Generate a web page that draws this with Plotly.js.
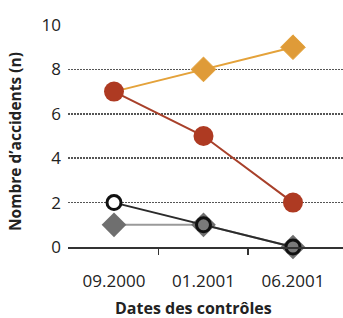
<!DOCTYPE html>
<html>
<head>
<meta charset="utf-8">
<script src="https://cdn.plot.ly/plotly-3.0.1.min.js"></script>
<style>html,body{margin:0;padding:0;background:#fff;}#chart{width:343px;height:318px;}</style>
</head>
<body>
<div id="chart"></div>
<script>
const categories = ['09.2000', '01.2001', '06.2001'];
const seriesOrange = [7, 8, 9];
const seriesRed = [7, 5, 2];
const seriesOpen = [2, 1, 0];
const seriesGrey = [1, 1, 0];
const yTicks = [0, 2, 4, 6, 8, 10];
const xTitle = 'Dates des contrôles';
const yTitle = 'Nombre d’accidents (n)';

const FONT = 'Open Sans, Noto Sans, DejaVu Sans, sans-serif';

const traces = [
  {x: [0], y: [null], xaxis: 'x2', yaxis: 'y', type: 'scatter', mode: 'markers', showlegend: false, hoverinfo: 'none'},
  {
    x: categories, y: seriesGrey, type: 'scatter', mode: 'lines+markers',
    line: {color: '#9a9a9a', width: 2},
    marker: {symbol: 'diamond', size: 19, color: '#6f6f6f', opacity: 1},
    cliponaxis: false, hoverinfo: 'none'
  },
  {
    x: categories, y: seriesOpen, type: 'scatter', mode: 'lines+markers',
    line: {color: '#2b2b2b', width: 2},
    marker: {symbol: 'circle', size: 14, color: ['#ffffff', '#7a7a7a', '#7a7a7a'], opacity: 1, line: {color: '#111', width: 3}},
    cliponaxis: false, hoverinfo: 'none'
  },
  {
    x: categories, y: seriesOrange, type: 'scatter', mode: 'lines+markers',
    line: {color: '#e4a23a', width: 2},
    marker: {symbol: 'diamond', size: [0, 19, 19], color: '#df9b38', opacity: 1},
    cliponaxis: false, hoverinfo: 'none'
  },
  {
    x: categories, y: seriesRed, type: 'scatter', mode: 'lines+markers',
    line: {color: '#a8402a', width: 2},
    marker: {symbol: 'circle', size: 20, color: '#ae3a22', opacity: 1},
    cliponaxis: false, hoverinfo: 'none'
  }
];

const layout = {
  width: 343, height: 318,
  margin: {l: 68, r: 0, t: 25, b: 71},
  paper_bgcolor: '#fff', plot_bgcolor: '#fff',
  showlegend: false,
  font: {family: FONT, color: '#222', size: 17},
  xaxis: {
    type: 'category',
    range: [-0.514, 2.559],
    showgrid: false, zeroline: false,
    showline: true, linecolor: '#333', linewidth: 2,
    ticks: '', ticklabelstandoff: 18,
    tickfont: {family: FONT, size: 17, color: '#222'},
    fixedrange: true
  },
  xaxis2: {
    overlaying: 'x', range: [-0.514, 2.559],
    tickvals: [0.5, 1.5], ticks: 'outside', ticklen: 7, tickwidth: 1.5, tickcolor: '#333',
    showticklabels: false, showgrid: false, zeroline: false, showline: false
  },
  yaxis: {
    range: [0, 10],
    tickvals: yTicks,
    showgrid: true, gridcolor: '#555', gridwidth: 1.5, griddash: '1.5px,1.5px',
    zeroline: false, showline: false,
    ticks: '', ticklabelstandoff: 6,
    tickfont: {family: FONT, size: 17, color: '#222'},
    fixedrange: true
  },
  annotations: [
    {text: xTitle, xref: 'paper', yref: 'paper', x: 0.458, y: -0.275, xanchor: 'center', yanchor: 'middle', showarrow: false,
     font: {family: FONT, size: 16, color: '#222', weight: 'bold'}},
    {text: yTitle, xref: 'paper', yref: 'paper', x: -0.193, y: 0.477, xanchor: 'center', yanchor: 'middle', textangle: -90, showarrow: false,
     font: {family: FONT, size: 15.5, color: '#222', weight: 'bold'}}
  ]
};

Plotly.newPlot('chart', traces, layout, {staticPlot: true, displayModeBar: false});
</script>
</body>
</html>
